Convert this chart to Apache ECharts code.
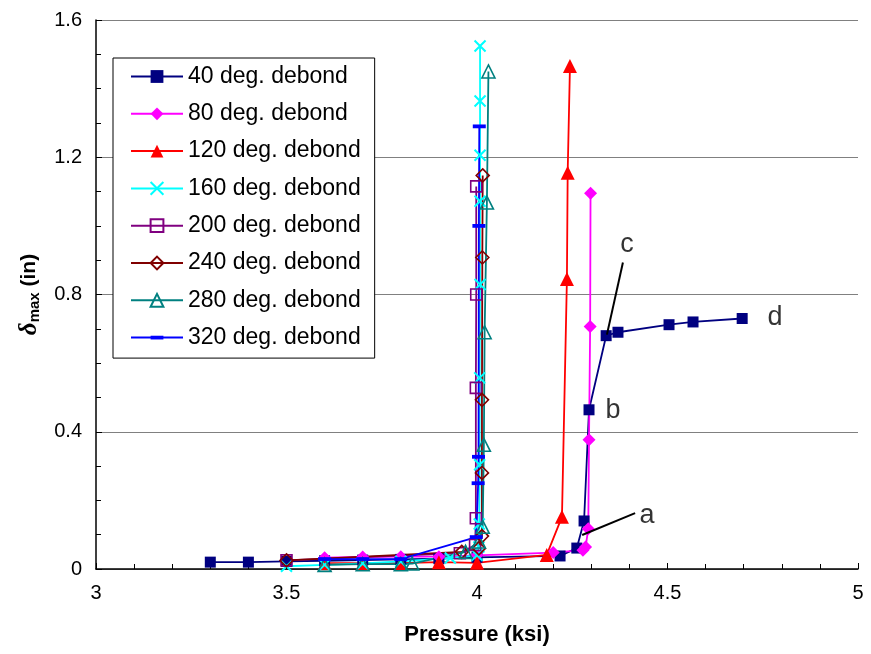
<!DOCTYPE html>
<html>
<head>
<meta charset="utf-8">
<script src="https://cdn.jsdelivr.net/npm/echarts@6/dist/echarts.min.js"></script>
<style>
  html, body { margin: 0; padding: 0; background: #fff; }
  #chart { width: 871px; height: 654px; }
</style>
</head>
<body>
<div id="chart"></div>
<script>
// Axis ticks
var xTicks = [3, 3.5, 4, 4.5, 5];
var yTicks = [0, 0.4, 0.8, 1.2, 1.6];

// Pressure (ksi) and max deflection (in) for each debond angle
var p40 = [3.3, 3.4, 3.5, 3.6, 3.7, 3.8, 3.9, 4.0, 4.218, 4.262, 4.281, 4.294, 4.339, 4.37, 4.504, 4.567, 4.696];
var d40 = [0.02, 0.02, 0.022, 0.024, 0.026, 0.028, 0.03, 0.034, 0.038, 0.061, 0.14, 0.464, 0.68, 0.69, 0.712, 0.72, 0.73];

var p80 = [3.6, 3.7, 3.8, 3.9, 4.0, 4.2, 4.278, 4.285, 4.292, 4.294, 4.297, 4.298];
var d80 = [0.033, 0.035, 0.036, 0.036, 0.04, 0.048, 0.055, 0.064, 0.117, 0.377, 0.707, 1.095];

var p120 = [3.6, 3.7, 3.8, 3.9, 4.0, 4.183, 4.223, 4.236, 4.238, 4.244];
var d120 = [0.017, 0.017, 0.017, 0.02, 0.018, 0.041, 0.152, 0.845, 1.155, 1.466];

var p160 = [3.5, 3.6, 3.7, 3.8, 3.93, 4.0, 4.005, 4.006, 4.007, 4.007, 4.008, 4.008, 4.008, 4.008, 4.008];
var d160 = [0.008, 0.012, 0.016, 0.022, 0.032, 0.04, 0.064, 0.131, 0.304, 0.557, 0.829, 1.072, 1.206, 1.364, 1.524];

var p200 = [3.5, 3.955, 3.995, 3.997, 3.997, 3.998, 3.998];
var d200 = [0.025, 0.046, 0.07, 0.148, 0.528, 0.8, 1.115];

var p240 = [3.5, 3.96, 4.005, 4.013, 4.013, 4.013, 4.014, 4.015];
var d240 = [0.025, 0.05, 0.06, 0.096, 0.28, 0.493, 0.908, 1.147];

var p280 = [3.6, 3.7, 3.8, 3.83, 3.97, 4.005, 4.015, 4.018, 4.02, 4.026, 4.03];
var d280 = [0.012, 0.014, 0.014, 0.016, 0.05, 0.08, 0.123, 0.362, 0.69, 1.068, 1.45];

var p320 = [3.6, 3.7, 3.8, 3.998, 4.003, 4.004, 4.005, 4.006];
var d320 = [0.029, 0.029, 0.029, 0.093, 0.25, 0.327, 1.0, 1.29];

// Stage annotations a-d and their leader lines
var noteText = ['a', 'b', 'c', 'd'];
var noteP = [4.446, 4.357, 4.394, 4.782];
var noteD = [0.155, 0.461, 0.946, 0.733];
var leaderAP = [4.415, 4.276];
var leaderAD = [0.163, 0.099];
var leaderCP = [4.383, 4.341];
var leaderCD = [0.893, 0.683];

function pairs(xs, ys) {
  return xs.map(function (x, i) { return [x, ys[i]]; });
}

var clear = 'rgba(0,0,0,0)';
// cross marker and a flat dash centred in a square box (so legend icons keep the shape)
var crossPath = 'path://M0,0L10,10M10,0L0,10';
var dashPath = 'path://M0,0M13,13M0,4.6L13,4.6L13,8.4L0,8.4Z';

function curve(name, xs, ys, color, symbol, size, hollow) {
  return {
    name: name,
    type: 'line',
    data: pairs(xs, ys),
    symbol: symbol,
    symbolSize: size,
    showAllSymbol: true,
    lineStyle: { color: color, width: 1.8 },
    itemStyle: hollow
      ? { color: clear, borderColor: color, borderWidth: 1.6 }
      : { color: color },
    emphasis: { disabled: true },
    z: 3
  };
}

var names = ['40 deg. debond', '80 deg. debond', '120 deg. debond', '160 deg. debond',
             '200 deg. debond', '240 deg. debond', '280 deg. debond', '320 deg. debond'];

var series = [
  curve(names[0], p40, d40, '#000080', 'rect', 11, false),
  curve(names[1], p80, d80, '#ff00ff', 'diamond', 13, false),
  curve(names[2], p120, d120, '#ff0000', 'triangle', 14, false),
  curve(names[3], p160, d160, '#00ffff', crossPath, 11, true),
  curve(names[4], p200, d200, '#800080', 'rect', 11, true),
  curve(names[5], p240, d240, '#800000', 'diamond', 13, true),
  curve(names[6], p280, d280, '#008080', 'triangle', 13, true),
  curve(names[7], p320, d320, '#0000ff', dashPath, 13, false)
];
series[3].itemStyle.borderWidth = 2;

series.push({
  name: 'leaderA', type: 'line', data: pairs(leaderAP, leaderAD), symbol: 'none',
  lineStyle: { color: '#000', width: 2 }, emphasis: { disabled: true }, z: 4
});
series.push({
  name: 'leaderC', type: 'line', data: pairs(leaderCP, leaderCD), symbol: 'none',
  lineStyle: { color: '#000', width: 2 }, emphasis: { disabled: true }, z: 4
});
series.push({
  name: 'notes', type: 'scatter',
  data: noteText.map(function (t, i) { return { name: t, value: [noteP[i], noteD[i]] }; }),
  symbolSize: 1,
  itemStyle: { color: clear },
  label: {
    show: true, position: 'inside', formatter: '{b}',
    fontFamily: 'Liberation Sans, Arial, sans-serif', fontSize: 27, color: '#000'
  },
  emphasis: { disabled: true },
  z: 5
});

var chart = echarts.init(document.getElementById('chart'));
chart.setOption({
  animation: false,
  backgroundColor: '#fff',
  textStyle: { fontFamily: 'Liberation Sans, Arial, sans-serif' },
  grid: { left: 96, right: 13, top: 20, bottom: 85 },
  legend: {
    data: names,
    orient: 'vertical',
    left: 113,
    top: 58,
    backgroundColor: '#fff',
    borderColor: '#000',
    borderWidth: 1,
    borderRadius: 0,
    padding: [7, 14, 9, 17],
    itemWidth: 52,
    itemHeight: 16,
    itemGap: 14.3,
    selectedMode: false,
    textStyle: { fontSize: 23, lineHeight: 22, color: '#000', fontFamily: 'Liberation Sans, Arial, sans-serif' }
  },
  xAxis: {
    type: 'value',
    min: xTicks[0],
    max: xTicks[xTicks.length - 1],
    interval: xTicks[1] - xTicks[0],
    name: 'Pressure (ksi)',
    nameLocation: 'middle',
    nameGap: 55,
    nameTextStyle: { fontSize: 22, fontWeight: 'bold', color: '#000' },
    axisLine: { lineStyle: { color: '#000', width: 1.5 } },
    axisTick: { inside: true, length: 6, lineStyle: { color: '#000' } },
    minorTick: { show: true, splitNumber: 5, length: 5, lineStyle: { color: '#000' } },
    axisLabel: { fontSize: 20, color: '#000', margin: 14 },
    splitLine: { show: false }
  },
  yAxis: {
    type: 'value',
    min: yTicks[0],
    max: yTicks[yTicks.length - 1],
    interval: yTicks[1] - yTicks[0],
    name: '{d|δ}{s|max}{n| (in)}',
    nameLocation: 'middle',
    nameGap: 54,
    nameTextStyle: {
      rich: {
        d: { fontSize: 25, fontStyle: 'italic', fontWeight: 'bold', color: '#000', fontFamily: 'Liberation Serif, serif' },
        s: { fontSize: 15, fontWeight: 'bold', color: '#000', verticalAlign: 'bottom', padding: [6, 0, 0, 0] },
        n: { fontSize: 21, fontWeight: 'bold', color: '#000' }
      }
    },
    axisLine: { show: true, lineStyle: { color: '#000', width: 1.5 } },
    axisTick: { inside: true, length: 6, lineStyle: { color: '#000' } },
    minorTick: { show: true, splitNumber: 4, length: 5, lineStyle: { color: '#000' } },
    axisLabel: {
      fontSize: 20, color: '#000', margin: 14,
      formatter: function (v) { return String(Math.round(v * 10) / 10); }
    },
    splitLine: { show: true, lineStyle: { color: '#808080', width: 1 } }
  },
  series: series
});
</script>
</body>
</html>
